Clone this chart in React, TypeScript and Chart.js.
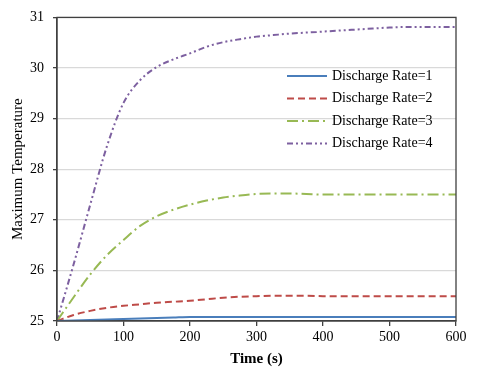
import React, { useEffect, useRef } from "react";
import { Chart, registerables } from "chart.js";

Chart.register(...registerables);

const times = [0, 25, 50, 75, 100, 125, 150, 175, 200, 225, 250, 275, 300, 325, 350, 375, 400, 425, 450, 475, 500, 525, 550, 575, 600];
const rate1 = [25, 25.01, 25.02, 25.03, 25.04, 25.05, 25.06, 25.07, 25.08, 25.08, 25.08, 25.08, 25.08, 25.08, 25.08, 25.08, 25.08, 25.08, 25.08, 25.08, 25.08, 25.08, 25.08, 25.08, 25.08];
const rate2 = [25, 25.12, 25.2, 25.26, 25.3, 25.33, 25.36, 25.38, 25.4, 25.43, 25.46, 25.48, 25.49, 25.5, 25.5, 25.5, 25.49, 25.49, 25.49, 25.49, 25.49, 25.49, 25.49, 25.49, 25.49];
const rate3 = [25, 25.47, 25.92, 26.3, 26.6, 26.88, 27.07, 27.2, 27.3, 27.38, 27.44, 27.48, 27.51, 27.52, 27.52, 27.51, 27.5, 27.5, 27.5, 27.5, 27.5, 27.5, 27.5, 27.5, 27.5];
const rate4 = [25, 26.12, 27.3, 28.45, 29.31, 29.76, 30.02, 30.17, 30.29, 30.42, 30.51, 30.57, 30.62, 30.65, 30.68, 30.7, 30.72, 30.74, 30.76, 30.78, 30.8, 30.81, 30.81, 30.81, 30.81];
const seriesLabels = ["Discharge Rate=1", "Discharge Rate=2", "Discharge Rate=3", "Discharge Rate=4"];
const xTitle = "Time (s)";
const yTitle = "Maximum Temperature";

const FONT = "'Liberation Serif', 'Times New Roman', serif";

const colors = ["#4a7ebb", "#be4b48", "#98b954", "#7d60a0"];
const dashes = [[], [7, 4], [11, 4, 2, 4], [6, 3, 2, 3, 2, 3]];

const frameAndLegend = {
  id: "frameAndLegend",
  afterDraw(chart: any) {
    const { ctx, chartArea } = chart;
    ctx.save();
    ctx.strokeStyle = "#404040";
    ctx.lineWidth = 1.3;
    ctx.setLineDash([]);
    ctx.strokeRect(chartArea.left, chartArea.top, chartArea.right - chartArea.left, chartArea.bottom - chartArea.top);
    // legend
    const ys = [76, 98.5, 121, 143.5];
    chart.data.datasets.forEach((ds: any, i: number) => {
      const y = ys[i];
      ctx.strokeStyle = ds.borderColor;
      ctx.lineWidth = 2;
      ctx.setLineDash(ds.borderDash || []);
      ctx.beginPath();
      ctx.moveTo(287, y);
      ctx.lineTo(327, y);
      ctx.stroke();
      ctx.setLineDash([]);
      ctx.fillStyle = "#000";
      ctx.font = `14px ${FONT}`;
      ctx.textBaseline = "middle";
      ctx.textAlign = "left";
      ctx.fillText(ds.label, 332, y);
    });
    ctx.restore();
  },
};

export default function App() {
  const ref = useRef<HTMLCanvasElement>(null);
  useEffect(() => {
    if (!ref.current) return;
    const values = [rate1, rate2, rate3, rate4];
    const chart = new Chart(ref.current, {
      type: "line",
      data: {
        labels: times,
        datasets: values.map((v, i) => ({
          label: seriesLabels[i],
          data: times.map((t, j) => ({ x: t, y: v[j] })),
          borderColor: colors[i],
          backgroundColor: colors[i],
          borderWidth: 2,
          borderDash: dashes[i],
          pointRadius: 0,
          cubicInterpolationMode: "monotone" as const,
          fill: false,
        })),
      },
      options: {
        animation: false,
        responsive: false,
        maintainAspectRatio: false,
        layout: { padding: { top: 9, right: 24, left: 0, bottom: 0 } },
        plugins: { legend: { display: false }, tooltip: { enabled: false } },
        scales: {
          x: {
            type: "linear",
            min: 0,
            max: 600,
            ticks: { stepSize: 100, color: "#000", font: { family: FONT, size: 14 }, padding: 3, maxRotation: 0 },
            grid: { drawOnChartArea: false, tickColor: "#404040", tickLength: 5, lineWidth: 1.3 },
            border: { color: "#404040", width: 1.3 },
            title: { display: true, text: xTitle, color: "#000", font: { family: FONT, size: 15, weight: "bold" }, padding: { top: 0, bottom: 1 } },
            afterFit(scale: any) { scale.height = 48; },
          },
          y: {
            min: 25,
            max: 31,
            ticks: { stepSize: 1, color: "#000", font: { family: FONT, size: 14 }, padding: 9 },
            grid: { color: "#d9d9d9", lineWidth: 1.3, tickColor: "#404040", tickLength: 4 },
            border: { color: "#404040", width: 1.3 },
            title: { display: true, text: yTitle, color: "#000", font: { family: FONT, size: 15 }, padding: { top: 9, bottom: 0 } },
            afterFit(scale: any) { scale.width = 57; },
          },
        },
      },
      plugins: [frameAndLegend],
    });
    return () => chart.destroy();
  }, []);
  return (
    <div style={{ position: "fixed", left: 0, top: 0, width: 480, height: 369, background: "#fff" }}>
      <canvas ref={ref} width={480} height={369} style={{ width: 480, height: 369 }} />
    </div>
  );
}
